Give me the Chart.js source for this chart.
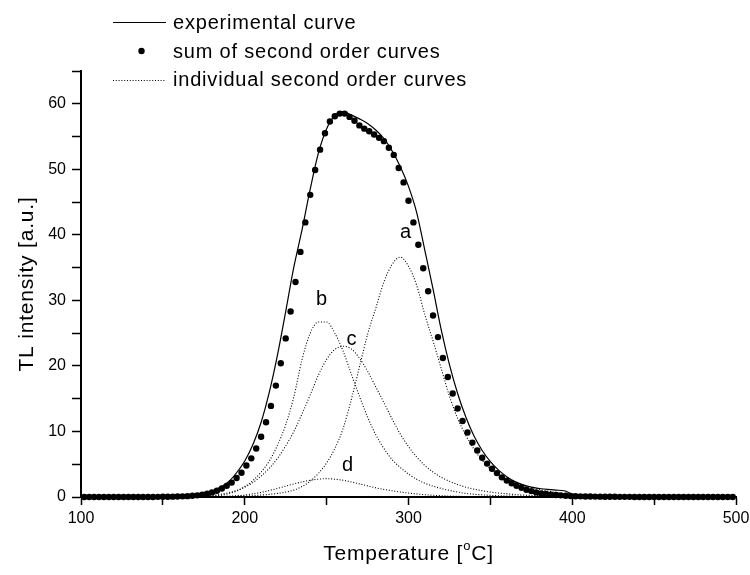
<!DOCTYPE html>
<html>
<head>
<meta charset="utf-8">
<script src="https://cdn.jsdelivr.net/npm/chart.js@4.4.1/dist/chart.umd.min.js"></script>
<style>
  html, body { margin: 0; padding: 0; background: #fff; }
  #wrap { width: 750px; height: 575px; }
</style>
</head>
<body>
<div id="wrap"><canvas id="tlChart" width="750" height="575"></canvas></div>
<script>
// Temperature grid of the curves [°C]
const curveTemps = [
  100, 150, 160, 165, 170, 175, 180, 185, 190, 195,
  200, 205, 210, 215, 220, 225, 230, 235, 240, 245,
  250, 255, 260, 265, 270, 275, 280, 285, 290, 295,
  300, 305, 310, 315, 320, 325, 330, 335, 340, 345,
  350, 355, 360, 365, 370, 375, 380, 385, 390, 395,
  400, 405, 410, 415, 420, 450, 500
];

// experimental curve
const expValues = [
  0.05, 0.05, 0.1, 0.15, 0.3, 0.55, 0.9, 1.5, 2.3, 3.7,
  5.5, 8.0, 11.4, 16.0, 21.7, 28.3, 35.1, 40.8, 47.0, 52.5,
  56.2, 58.2, 58.8, 58.3, 57.7, 57.0, 56.0, 54.7, 52.8, 50.4,
  47.4, 43.4, 37.6, 31.7, 25.5, 20.2, 15.8, 12.2, 9.3, 7.1,
  5.4, 4.1, 3.1, 2.35, 1.85, 1.5, 1.3, 1.15, 1.05, 0.95,
  0.45, 0.2, 0.12, 0.1, 0.08, 0.05, 0.05
];

// individual second order curves a, b, c, d
const peakA = [
  0, 0.02, 0.05, 0.06, 0.07, 0.08, 0.09, 0.1, 0.11, 0.13,
  0.15, 0.2, 0.3, 0.4, 0.55, 0.75, 1.05, 1.6, 2.4, 3.6,
  5.2, 7.4, 10.4, 14.8, 19.8, 24.8, 28.8, 32.8, 35.5, 36.6,
  35.2, 32.3, 27.8, 23.8, 19.6, 15.4, 12.0, 9.4, 7.3, 5.6,
  4.3, 3.3, 2.7, 2.2, 1.8, 1.45, 1.15, 0.9, 0.7, 0.5,
  0.35, 0.25, 0.2, 0.15, 0.1, 0.03, 0
];
const peakB = [
  0, 0.01, 0.02, 0.03, 0.05, 0.08, 0.13, 0.25, 0.5, 0.9,
  1.6, 2.5, 3.8, 5.5, 7.9, 11.0, 15.3, 21.0, 25.0, 26.7,
  26.7, 25.0, 22.3, 18.8, 15.4, 12.2, 9.5, 7.4, 5.7, 4.5,
  3.5, 2.7, 2.1, 1.65, 1.3, 1.0, 0.75, 0.55, 0.42, 0.33,
  0.25, 0.2, 0.15, 0.12, 0.1, 0.08, 0.06, 0.05, 0.04, 0.03,
  0.02, 0.02, 0.01, 0.01, 0.01, 0, 0
];
const peakC = [
  0, 0.02, 0.05, 0.07, 0.1, 0.15, 0.25, 0.4, 0.65, 1.0,
  1.5, 2.2, 3.2, 4.4, 5.9, 7.8, 10.0, 12.7, 15.6, 18.6,
  21.0, 22.5, 23.0, 22.6, 21.2, 19.2, 16.8, 14.4, 11.9, 9.6,
  7.7, 6.1, 4.8, 3.8, 3.0, 2.4, 1.9, 1.5, 1.2, 0.95,
  0.75, 0.6, 0.48, 0.38, 0.3, 0.24, 0.2, 0.16, 0.13, 0.1,
  0.08, 0.06, 0.05, 0.04, 0.03, 0.01, 0
];
const peakD = [
  0, 0, 0, 0.01, 0.01, 0.02, 0.03, 0.05, 0.1, 0.18,
  0.3, 0.48, 0.7, 1.0, 1.3, 1.65, 2.0, 2.3, 2.55, 2.72,
  2.8, 2.72, 2.55, 2.3, 2.0, 1.7, 1.4, 1.15, 0.95, 0.76,
  0.6, 0.47, 0.35, 0.26, 0.2, 0.15, 0.1, 0.08, 0.06, 0.04,
  0.03, 0.02, 0.02, 0.01, 0.01, 0.01, 0, 0, 0, 0,
  0, 0, 0, 0, 0, 0, 0
];

// sum of second order curves (dots)
const sumTemps = [
  102, 105, 108, 111, 114, 117, 120, 123, 126, 129,
  132, 135, 138, 141, 144, 147, 150, 153, 156, 159,
  162, 165, 168, 171, 174, 177, 180, 183, 186, 189,
  192, 195, 198, 201, 204, 207, 210, 213, 216, 219,
  222, 225, 228, 231, 234, 237, 240, 243, 246, 249,
  252, 255, 258, 261, 264, 267, 270, 273, 276, 279,
  282, 285, 288, 291, 294, 297, 300, 303, 306, 309,
  312, 315, 318, 321, 324, 327, 330, 333, 336, 339,
  342, 345, 348, 351, 354, 357, 360, 363, 366, 369,
  372, 375, 378, 381, 384, 387, 390, 393, 396, 399,
  402, 405, 408, 411, 414, 417, 420, 423, 426, 429,
  432, 435, 438, 441, 444, 447, 450, 453, 456, 459,
  462, 465, 468, 471, 474, 477, 480, 483, 486, 489,
  492, 495, 498
];
const sumValues = [
  0, 0, 0, 0, 0, 0, 0, 0, 0, 0,
  0, 0, 0, 0.01, 0.01, 0.02, 0.03, 0.04, 0.05, 0.07,
  0.1, 0.13, 0.18, 0.25, 0.35, 0.5, 0.7, 0.95, 1.3, 1.7,
  2.2, 2.9, 3.7, 4.8, 5.9, 7.4, 9.2, 11.4, 13.9, 17.0,
  20.4, 24.2, 28.3, 32.8, 37.4, 41.9, 46.1, 49.9, 53.0, 55.5,
  57.3, 58.1, 58.5, 58.5, 58.0, 57.4, 56.7, 56.2, 55.8, 55.3,
  54.8, 54.3, 53.3, 52.2, 50.2, 48.0, 45.2, 41.9, 38.5, 34.9,
  31.4, 27.7, 24.4, 21.2, 18.3, 15.8, 13.5, 11.6, 9.85, 8.3,
  7.1, 6.0, 5.1, 4.3, 3.65, 3.0, 2.5, 2.1, 1.7, 1.4,
  1.1, 0.9, 0.7, 0.55, 0.45, 0.35, 0.3, 0.25, 0.2, 0.15,
  0.12, 0.1, 0.08, 0.07, 0.06, 0.05, 0.04, 0.03, 0.03, 0.02,
  0.02, 0.02, 0.01, 0.01, 0.01, 0.01, 0, 0, 0, 0,
  0, 0, 0, 0, 0, 0, 0, 0, 0, 0,
  0, 0, 0
];

// peak letters and where they sit
const peakNames = ['a', 'b', 'c', 'd'];
const peakNameTemps = [298.4, 247.1, 265.4, 263];
const peakNameValues = [40.4, 30.2, 24.1, 4.8];

// legend and axis texts
const legendLabels = ['experimental curve', 'sum of second order curves', 'individual second order curves'];
const xTitle = ['Temperature [', 'o', 'C]'];
const yTitle = 'TL intensity [a.u.]';

const FONT = "'Liberation Sans', Arial, Helvetica, sans-serif";
Chart.defaults.font.family = FONT;
Chart.defaults.color = '#000';

function toPoints(xs, ys) {
  return xs.map((x, i) => ({ x: x, y: ys[i] }));
}

function dottedCurve(values) {
  return {
    data: toPoints(curveTemps, values),
    borderColor: '#000',
    borderWidth: 1.1,
    borderDash: [1, 1.8],
    pointRadius: 0,
    cubicInterpolationMode: 'monotone',
    fill: false
  };
}

// texts drawn by hand: legend, axis titles, peak letters
const extras = {
  id: 'extras',
  afterDraw(chart) {
    const ctx = chart.ctx;
    const xs = chart.scales.x;
    const ys = chart.scales.y;
    ctx.save();
    ctx.fillStyle = '#000';
    ctx.strokeStyle = '#000';
    ctx.letterSpacing = '0.8px';
    ctx.textBaseline = 'middle';

    // legend
    ctx.font = '20px ' + FONT;
    ctx.textAlign = 'left';
    ctx.lineWidth = 1.2;
    ctx.beginPath();
    ctx.moveTo(113, 22.5);
    ctx.lineTo(166, 22.5);
    ctx.stroke();
    ctx.fillText(legendLabels[0], 173, 23);

    ctx.beginPath();
    ctx.arc(141.5, 51, 3.2, 0, Math.PI * 2);
    ctx.fill();
    ctx.fillText(legendLabels[1], 173, 52);

    ctx.lineWidth = 1.1;
    ctx.setLineDash([1, 1.8]);
    ctx.beginPath();
    ctx.moveTo(113, 80.5);
    ctx.lineTo(166, 80.5);
    ctx.stroke();
    ctx.setLineDash([]);
    ctx.fillText(legendLabels[2], 173, 80);

    // peak letters
    ctx.textAlign = 'center';
    peakNames.forEach((name, i) => {
      ctx.fillText(name, xs.getPixelForValue(peakNameTemps[i]), ys.getPixelForValue(peakNameValues[i]));
    });

    // x title with superscript o
    const big = '21px ' + FONT;
    const small = '13px ' + FONT;
    ctx.textAlign = 'left';
    ctx.font = big;
    const w1 = ctx.measureText(xTitle[0]).width;
    const w3 = ctx.measureText(xTitle[2]).width;
    ctx.font = small;
    const w2 = ctx.measureText(xTitle[1]).width;
    const cx = (chart.chartArea.left + chart.chartArea.right) / 2;
    const x0 = cx - (w1 + w2 + w3) / 2;
    const ty = 554;
    ctx.font = big;
    ctx.fillText(xTitle[0], x0, ty);
    ctx.font = small;
    ctx.fillText(xTitle[1], x0 + w1, ty - 8);
    ctx.font = big;
    ctx.fillText(xTitle[2], x0 + w1 + w2, ty);

    // y title
    ctx.translate(27, (chart.chartArea.top + chart.chartArea.bottom) / 2);
    ctx.rotate(-Math.PI / 2);
    ctx.textAlign = 'center';
    ctx.fillText(yTitle, 0, 0);
    ctx.restore();
  }
};

const ctx = document.getElementById('tlChart').getContext('2d');
new Chart(ctx, {
  type: 'line',
  data: {
    datasets: [
      {
        label: legendLabels[0],
        data: toPoints(curveTemps, expValues),
        borderColor: '#000',
        borderWidth: 1.2,
        pointRadius: 0,
        cubicInterpolationMode: 'monotone',
        fill: false
      },
      {
        label: legendLabels[1],
        data: toPoints(sumTemps, sumValues),
        showLine: false,
        pointRadius: 3.2,
        pointBackgroundColor: '#000',
        pointBorderWidth: 0,
        clip: false
      },
      dottedCurve(peakA),
      dottedCurve(peakB),
      dottedCurve(peakC),
      dottedCurve(peakD)
    ]
  },
  options: {
    responsive: false,
    animation: false,
    layout: { padding: { top: 71, right: 14, left: 0, bottom: 0 } },
    plugins: {
      legend: { display: false },
      tooltip: { enabled: false }
    },
    scales: {
      x: {
        type: 'linear',
        min: 100,
        max: 500,
        border: { display: true, color: '#000', width: 2 },
        grid: { drawOnChartArea: false, drawTicks: true, tickLength: 8, tickColor: '#000', tickWidth: 1.5 },
        ticks: {
          stepSize: 50,
          autoSkip: false,
          maxRotation: 0,
          padding: 4,
          font: { size: 16 },
          color: '#000',
          callback: v => (v % 100 === 0 ? String(v) : '')
        },
        afterFit: s => { s.height = 78; s.paddingLeft = 0; s.paddingRight = 0; }
      },
      y: {
        min: 0,
        max: 65,
        border: { display: true, color: '#000', width: 2 },
        grid: { drawOnChartArea: false, drawTicks: true, tickLength: 9, tickColor: '#000', tickWidth: 1.5 },
        ticks: {
          stepSize: 5,
          autoSkip: false,
          padding: 6,
          font: { size: 16 },
          color: '#000',
          callback: v => (v % 10 === 0 ? String(v) : '')
        },
        afterFit: s => { s.width = 81; s.paddingTop = 0; s.paddingBottom = 0; }
      }
    }
  },
  plugins: [extras]
});
</script>
</body>
</html>
